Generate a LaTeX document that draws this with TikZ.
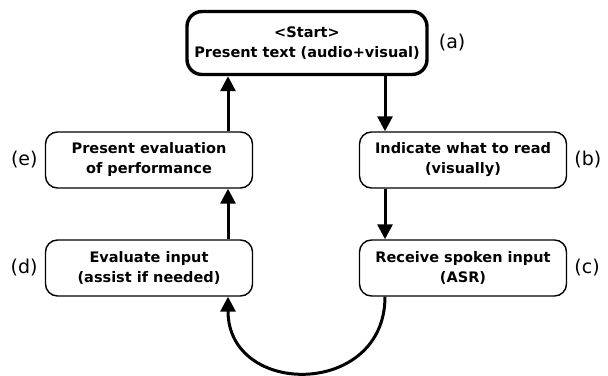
\documentclass[tikz,border=0pt]{standalone}
\usepackage{fontspec}
\setmainfont{DejaVu Sans}
\usepackage{tikz}
\usetikzlibrary{arrows.meta,positioning}

\begin{document}
\begin{tikzpicture}[
		x=1pt,
		y=1pt,
		every node/.style={font=\fontsize{14.5}{20}\selectfont\bfseries},
		stepbox/.style={draw, line width=1.4pt, rounded corners=12pt,
			minimum width=207pt, minimum height=56pt, inner sep=0pt, align=center},
		startbox/.style={stepbox, line width=3.4pt, rounded corners=15pt,
			minimum width=240pt, minimum height=63pt},
		tag/.style={font=\fontsize{19}{22}\selectfont, inner sep=0pt},
		flow/.style={line width=3pt, -{Triangle[width=15pt,length=15pt]}}
		]
		
		\useasboundingbox (0,0) rectangle (608,375);
		
		\def\LeftCol{149}
		\def\RightCol{463}
		
		% the five steps of the reading loop
		\node[startbox] (start) at (307,332) {<Start>\\Present text (audio+visual)};
		\node[stepbox] (indicate) at (\RightCol,215) {Indicate what to read\\(visually)};
		\node[stepbox] (receive) at (\RightCol,107) {Receive spoken input\\(ASR)};
		\node[stepbox] (evaluate) at (\LeftCol,107) {Evaluate input\\(assist if needed)};
		\node[stepbox] (feedback) at (\LeftCol,215) {Present evaluation\\of performance};
		
		% letters beside the boxes
		\node[tag, right=10pt of start] (tagA) {(a)};
		\node[tag, right=7pt of indicate] (tagB) {(b)};
		\node[tag, right=7pt of receive] (tagC) {(c)};
		\node[tag, left=7pt of evaluate] (tagD) {(d)};
		\node[tag, left=7pt of feedback] (tagE) {(e)};
		
		% columns the connectors run in
		\coordinate (rx) at (385,0);
		\coordinate (lx) at (228,0);
		
		\draw[flow] (start.south -| rx) -- (indicate.north -| rx);
		\draw[flow] (indicate.south -| rx) -- (receive.north -| rx);
		\draw[flow] (receive.south -| rx)
		.. controls +(0,-101) and +(0,-101) .. (evaluate.south -| lx);
		\draw[flow] (evaluate.north -| lx) -- (feedback.south -| lx);
		\draw[flow] (feedback.north -| lx) -- (start.south -| lx);
		
	\end{tikzpicture}
\end{document}
